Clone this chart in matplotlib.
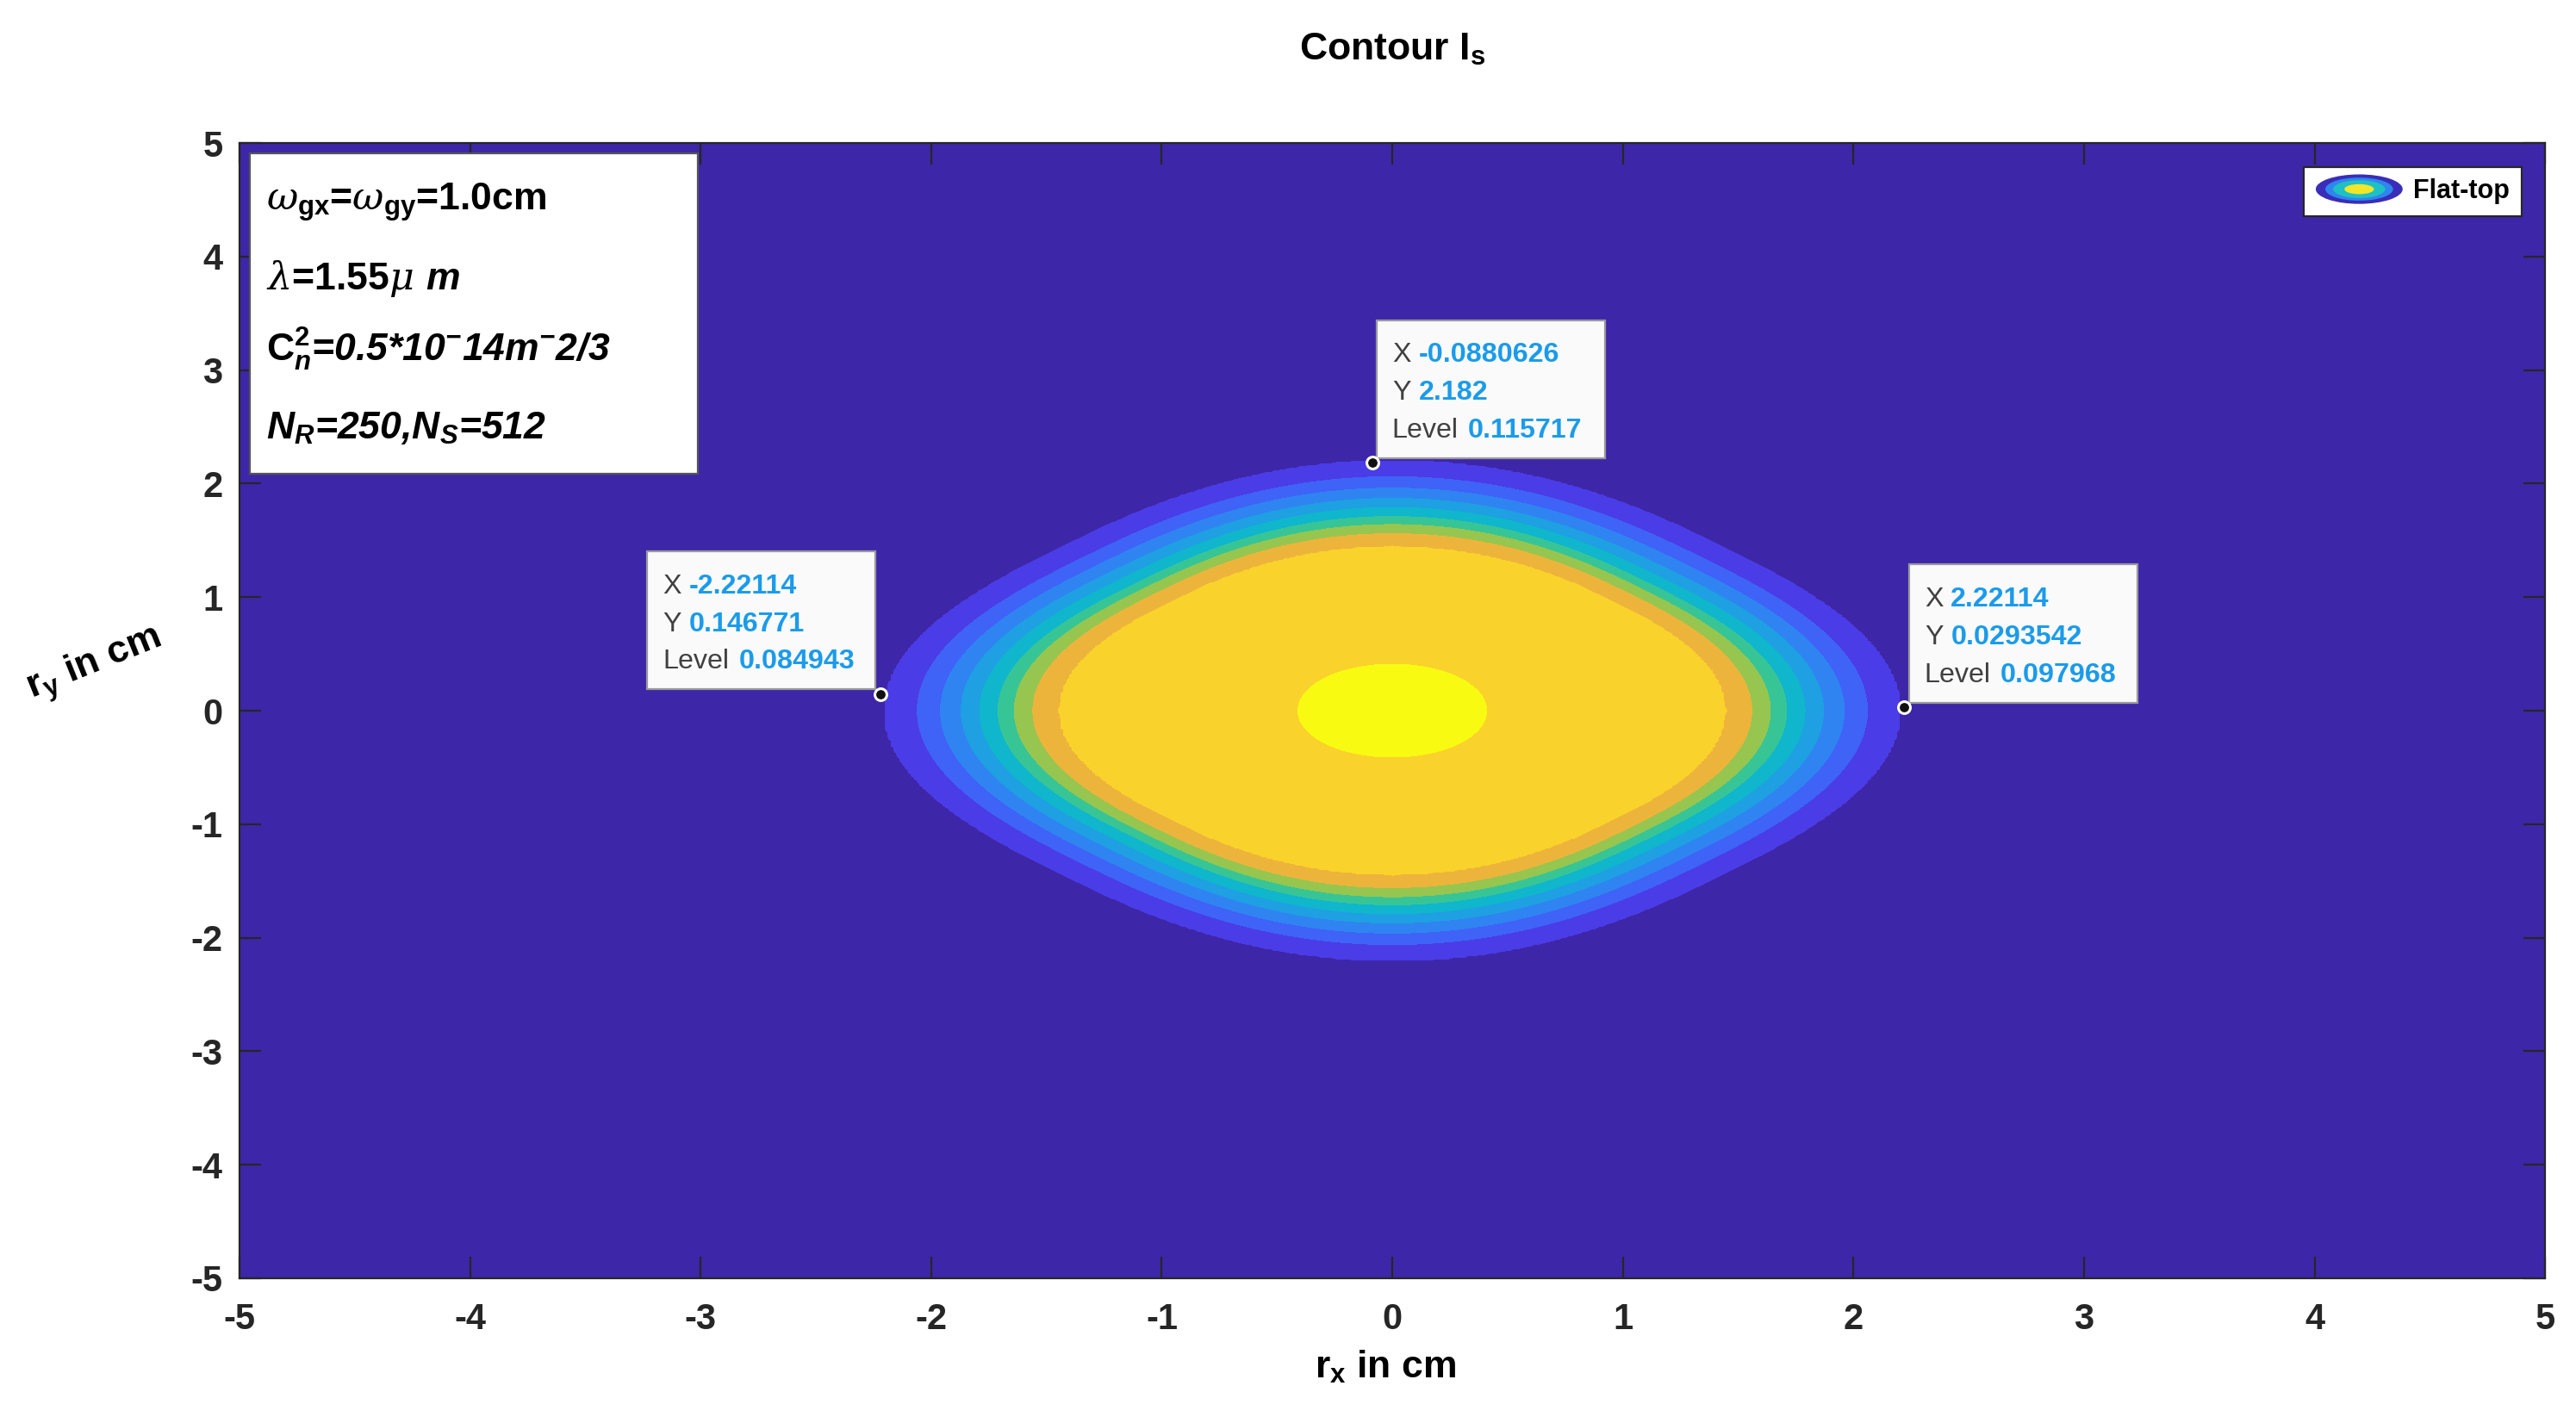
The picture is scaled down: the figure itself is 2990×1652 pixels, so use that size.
import numpy as np
import matplotlib
matplotlib.use('Agg')
import matplotlib.pyplot as plt
import matplotlib.transforms as mtransforms
from matplotlib.patches import Rectangle, Ellipse
from matplotlib.legend_handler import HandlerBase

plt.rcParams['font.family'] = ['Liberation Sans', 'DejaVu Sans']
plt.rcParams['axes.unicode_minus'] = False
plt.rcParams['mathtext.fontset'] = 'custom'
plt.rcParams['mathtext.rm'] = 'Liberation Sans'
plt.rcParams['mathtext.it'] = 'DejaVu Serif:italic'
plt.rcParams['mathtext.bf'] = 'Liberation Sans:bold'
plt.rcParams['mathtext.bfit'] = 'Liberation Sans:italic:bold'

# contour lines of the flat-top intensity
# half width of each contour line along the x / y axis (cm), outer -> inner
edge_r = [2.20, 2.06, 1.96, 1.87, 1.79, 1.71, 1.64, 1.56, 1.45, 0.41]
# roundness of each contour line (2 = circle, larger = more diamond-like)
edge_q = [2.6, 2.6, 2.6, 2.6, 2.6, 2.6, 2.55, 2.5, 2.45, 2.0]
# fill colour of each band, background first (parula)
band_colors = ['#3E26A8', '#4A3CE6', '#3F62F7', '#2F84F2', '#1EA0E2', '#10B6CB',
               '#38C596', '#96C64F', '#EDB43C', '#F9D22B', '#F8FA12']

# data tips
tip_x = [-0.0880626, -2.22114, 2.22114]
tip_y = [2.182, 0.146771, 0.0293542]
tip_level = [0.115717, 0.084943, 0.097968]
tip_side = ['right', 'left', 'right']

param_lines = [r'$\omega_{\mathdefault{gx}}$=$\omega_{\mathdefault{gy}}$=1.0cm',
               r'$\lambda$=1.55$\mu\ \mathbfit{m}$',
               r'$\mathbf{C}^{\mathbf{2}}_{\mathdefault{n}}$=0.5*10$^{\mathdefault{-}}$14m$^{\mathdefault{-}}$2/3',
               r'N$_{\mathdefault{R}}$=250,N$_{\mathdefault{S}}$=512']
param_style = ['normal', 'normal', 'italic', 'italic']

# build a field whose contour lines sit on the edges above
x = np.linspace(-5, 5, 801)
y = np.linspace(-5, 5, 801)
X, Y = np.meshgrid(x, y)
U = np.abs(X + Y) / np.sqrt(2)
V = np.abs(X - Y) / np.sqrt(2)
S = []
for r, q in zip(edge_r, edge_q):
    n = (U**q + V**q) ** (1 / q) * np.sqrt(2) / 2 ** (1 / q)
    S.append(n / r)
S = np.array(S)
nedge = len(edge_r)
kc = (S < 1).sum(axis=0)
F = np.where(kc == 0, 1 / np.maximum(S[0], 1e-9), 0.0)
for k in range(nedge - 1):
    m = kc == k + 1
    frac = (1 - S[k]) / (S[k + 1] - S[k])
    F = np.where(m, k + 1 + frac, F)
F = np.where(kc == nedge, nedge + 1 - S[-1], F)
levels = list(range(0, nedge + 1)) + [nedge + 2]

fig = plt.figure(figsize=(14.95, 8.26), dpi=200)
ax = fig.add_axes([0.093, 0.1017, 0.895, 0.7978])
ax.contourf(X, Y, F, levels=levels, colors=band_colors)
ax.set_xlim(-5, 5)
ax.set_ylim(-5, 5)
ax.set_xticks(np.arange(-5, 6, 1))
ax.set_yticks(np.arange(-5, 6, 1))
ax.tick_params(direction='in', length=9, width=0.8, color='#262626', labelsize=15,
               labelcolor='#262626', top=True, right=True, pad=7)
ax.tick_params(axis='x', pad=10)
for lbl in ax.get_xticklabels() + ax.get_yticklabels():
    lbl.set_fontweight('bold')
for sp in ax.spines.values():
    sp.set_color('#262626')
    sp.set_linewidth(0.8)

ax.set_title(r'Contour I$_{\mathdefault{s}}$', fontsize=16, fontweight='bold', pad=35)
ax.set_xlabel(r'r$_{\mathdefault{x}}$ in cm', fontsize=16, fontweight='bold', va='center')
ax.xaxis.set_label_coords(0.497, -0.078)
ax.set_ylabel(r'r$_{\mathdefault{y}}$ in cm', fontsize=16, fontweight='bold', rotation=22,
              ha='center', va='center')
ax.yaxis.set_label_coords(-0.063, 0.54)

# parameter box
ax.add_patch(Rectangle((0.0043, 0.709), 0.1946, 0.282, transform=ax.transAxes,
                       facecolor='white', edgecolor='#555555', lw=0.8, zorder=5))
for txt, st, yb in zip(param_lines, param_style, [0.941, 0.871, 0.809, 0.740]):
    ax.text(0.0114, yb, txt, transform=ax.transAxes, fontsize=16, fontweight='bold',
            fontstyle=st, va='baseline', ha='left', zorder=6)

# data tips
box_w, box_h = 95.4, 57.7
base = mtransforms.Affine2D().scale(1 / 72.) + fig.dpi_scale_trans
for tx, ty, tl, side in zip(tip_x, tip_y, tip_level, tip_side):
    # points relative to the data point
    disp = ax.transData.transform((tx, ty))
    tr = base + mtransforms.Affine2D().translate(*disp)
    x0 = 2 if side == 'right' else -2 - box_w
    ax.add_patch(Rectangle((x0, 2), box_w, box_h, transform=tr, facecolor='#FAFAFA',
                           edgecolor='#9A9A9A', lw=0.8, zorder=7, clip_on=False))
    rows = [('X', '%g' % tx, 11.0), ('Y', '%g' % ty, 11.0), ('Level', '%g' % tl, 31.8)]
    for i, (lab, val, dx) in enumerate(rows):
        yy = 45 - 15.8 * i
        ax.text(x0 + 6.4, yy, lab, transform=tr, fontsize=11.6, color='#404040',
                va='center', ha='left', zorder=8)
        ax.text(x0 + 6.4 + dx, yy, val, transform=tr, fontsize=11.6, color='#1B9BEA',
                fontweight='bold', va='center', ha='left', zorder=8)
ax.plot(tip_x, tip_y, 'o', ms=5, mfc='#111111', mec='white', mew=1.1, zorder=9)


class EllipseHandler(HandlerBase):
    def create_artists(self, legend, orig_handle, xdescent, ydescent, width, height,
                       fontsize, trans):
        cx = width / 2 - xdescent
        cy = height / 2 - ydescent
        arts = []
        for sc, col in zip([1.0, 0.78, 0.6, 0.34], ['#3A2DB8', '#2E86EE', '#1FC0C4', '#F2E62A']):
            arts.append(Ellipse((cx, cy), width * sc, height * 1.6 * sc, facecolor=col,
                                edgecolor='none', transform=trans))
        return arts


proxy = Rectangle((0, 0), 1, 1)
leg = ax.legend([proxy], ['Flat-top'], handler_map={proxy: EllipseHandler()},
                loc='upper right', prop={'weight': 'bold', 'size': 11}, fancybox=False,
                framealpha=1, edgecolor='#262626', borderpad=0.45, handlelength=3.3,
                handletextpad=0.4, borderaxespad=0.9)
leg.get_frame().set_linewidth(0.8)

fig.savefig('out.png', dpi=200)
